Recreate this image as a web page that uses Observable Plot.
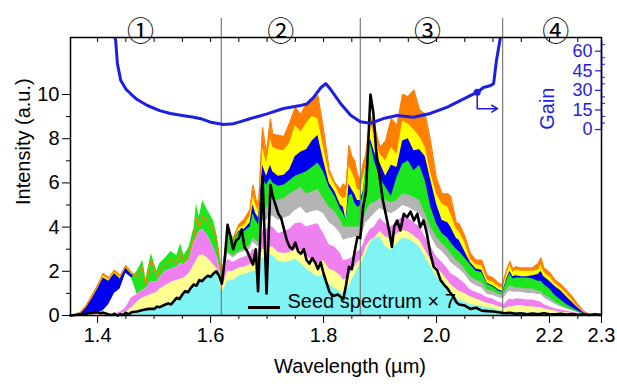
<!DOCTYPE html>
<html><head><meta charset="utf-8">
<script src="https://cdn.jsdelivr.net/npm/d3@7"></script>
<script src="https://cdn.jsdelivr.net/npm/@observablehq/plot@0.6"></script>
<style>body{margin:0;background:#fff}</style>
</head><body><div id="chart"></div>
<script>
// ---- wavelength grid for the amplified spectra (µm)
const wl = [
 1.35,1.36,1.37,1.38,1.39,1.40,1.41,1.42,1.43,1.44,1.45,1.46,
 1.47,1.48,1.485,1.495,1.505,1.51,1.52,1.53,1.54,1.547,1.553,1.562,1.571,1.575,1.58,1.586,1.595,1.605,1.612,
 1.62,1.63,1.64,1.65,1.66,1.67,1.675,1.68,1.685,1.692,1.699,1.706,1.71,1.72,1.73,1.74,1.75,1.76,1.77,1.78,1.79,
 1.80,1.81,1.82,1.83,1.835,1.84,1.845,1.85,1.855,1.86,1.865,1.87,1.875,1.883,1.89,1.90,1.91,1.92,1.93,1.94,1.95,1.96,1.97,1.98,1.99,2.00,2.01,2.02,
 2.025,2.035,2.04,2.05,2.06,2.07,2.08,2.09,2.10,2.11,2.117,2.12,2.125,2.13,2.135,2.14,2.15,2.16,2.17,2.18,2.185,2.19,2.20,2.21,2.22,2.23,2.24,2.25,2.26,2.27,2.28,2.29];

const orange = [
 0,.05,.15,.45,.9,1.35,1.9,1.7,2.05,1.8,2.25,1.95,
 1.75,2.2,1.4,2.5,1.75,2.05,2.3,2.55,2.4,2.9,2.4,2.75,3.6,4.4,4.0,4.5,4.2,3.9,3.3,
 1.8,3.8,3.5,4.1,4.35,4.8,5.9,5.3,5.0,8.5,7.3,8.9,8.2,8.15,8.1,8.7,9.4,9.1,9.6,9.7,9.95,
 8.4,6.6,6.0,5.7,5.95,5.8,7.7,7.2,7.0,6.4,6.1,6.85,7.3,9.0,8.6,7.6,7.9,8.9,8.6,10.0,9.9,10.2,9.3,9.1,7.8,6.2,5.5,5.5,
 5.4,4.2,4.15,3.6,2.8,2.5,2.5,1.8,1.7,1.45,1.4,1.7,2.1,2.45,2.1,2.2,2.15,2.15,2.15,2.35,2.6,2.15,1.95,1.6,1.4,1.15,.85,.5,.2,.06,.02,0];
const yellow = [
 0,.04,.12,.4,.82,1.27,1.8,1.62,1.97,1.72,2.2,1.9,
 1.75,2.2,1.4,2.5,1.75,2.05,2.3,2.55,2.4,2.9,2.4,2.75,3.6,4.4,4.0,4.5,4.2,3.9,3.3,
 1.75,3.8,3.45,3.95,4.1,4.5,5.4,5.0,4.7,7.6,6.9,8.0,7.6,7.5,7.45,7.8,8.6,8.3,8.7,9.0,8.9,
 7.6,6.4,5.9,5.4,5.3,5.35,6.75,6.5,6.2,5.7,5.65,6.2,6.8,8.7,8.2,7.3,7.0,7.6,7.3,8.8,8.65,8.4,8.1,7.6,6.4,5.5,5.05,4.9,
 4.6,3.9,3.8,3.3,2.55,2.3,2.25,1.6,1.5,1.3,1.25,1.5,1.95,2.3,1.95,2.05,2.0,2.0,2.0,2.05,2.3,1.95,1.75,1.45,1.25,1.0,.7,.4,.15,.05,.02,0];
const blue = [
 0,.03,.1,.35,.75,1.2,1.7,1.55,1.9,1.65,2.15,1.85,
 1.75,2.2,1.4,2.5,1.75,2.05,2.3,2.55,2.4,2.9,2.4,2.75,3.6,4.4,4.0,4.5,4.2,3.9,3.3,
 1.7,3.8,3.4,3.8,3.9,4.2,5.0,4.6,4.4,6.8,6.3,6.8,6.5,6.3,6.35,6.6,7.2,7.4,7.5,7.9,8.15,
 7.0,6.0,5.6,5.0,4.9,4.3,5.95,5.7,5.5,5.2,5.2,5.6,6.5,8.0,7.4,6.9,6.3,6.8,6.7,7.9,8.0,7.45,7.5,7.2,6.1,5.05,4.3,4.2,
 4.0,3.5,3.4,2.9,2.4,2.1,2.05,1.45,1.35,1.15,1.1,1.3,1.7,2.0,1.75,1.8,1.75,1.75,1.8,1.85,2.0,1.75,1.55,1.3,1.12,.85,.6,.35,.12,.04,.01,0];
const green = [
 0,.01,.03,.05,.08,.12,.2,.5,1.0,1.2,1.9,1.7,
 2.0,2.5,1.6,2.8,2.0,2.35,2.6,2.9,2.7,3.25,2.7,3.1,4.0,5.05,4.45,5.2,4.75,4.3,3.6,
 1.7,3.8,3.4,3.75,3.8,4.0,4.6,4.3,4.1,6.2,5.9,6.2,6.0,5.85,5.9,6.1,6.3,6.4,6.5,6.7,6.9,
 6.5,5.8,5.4,4.8,4.6,4.3,5.4,5.5,5.1,4.9,4.95,5.5,6.85,7.8,7.0,6.2,5.8,5.4,6.25,6.85,7.0,6.55,6.8,6.1,4.9,4.15,3.7,3.5,
 3.3,3.0,2.9,2.6,2.3,2.0,1.95,1.4,1.3,1.1,1.05,1.25,1.6,1.9,1.65,1.7,1.7,1.7,1.65,1.55,1.55,1.4,1.2,.9,.7,.5,.35,.2,.08,.03,.01,0];
const gray = [
 0,.01,.03,.05,.08,.12,.2,.5,1.0,1.2,1.9,1.7,
 .95,1.15,1.2,1.55,1.5,1.7,2.0,2.1,2.2,2.35,2.3,2.5,3.3,3.5,3.8,3.9,3.6,3.1,2.6,
 1.65,2.9,2.7,2.9,3.0,3.2,3.5,3.4,3.3,4.8,4.8,5.3,5.3,5.2,5.3,5.5,5.65,5.8,5.5,5.6,5.7,
 5.3,4.9,4.7,4.3,4.0,4.0,4.0,4.0,4.0,4.0,4.0,4.3,4.7,5.05,5.1,5.3,5.2,5.1,5.2,5.5,5.45,5.35,5.2,4.6,4.0,3.55,3.25,3.0,
 2.8,2.5,2.4,2.1,1.75,1.6,1.5,1.15,1.1,.95,.9,1.0,1.2,1.35,1.3,1.25,1.25,1.2,1.2,1.1,1.1,.95,.8,.6,.45,.35,.25,.15,.06,.02,0,0];
const white = [
 0,.01,.03,.05,.08,.12,.2,.5,1.0,1.2,1.9,1.7,
 .95,1.15,1.2,1.55,1.5,1.7,2.0,2.1,2.2,2.35,2.3,2.5,3.3,3.5,3.8,3.9,3.6,3.1,2.6,
 1.6,2.8,2.6,2.8,2.9,3.0,3.3,3.2,3.1,4.3,4.3,4.5,4.5,4.3,4.4,4.5,4.75,4.9,4.6,4.7,4.75,
 4.6,4.2,4.0,3.7,3.4,3.45,3.5,3.5,3.55,3.55,3.55,3.8,4.2,4.4,4.6,4.85,4.7,4.6,4.75,4.98,4.9,4.75,4.6,4.15,3.6,3.1,2.9,2.6,
 2.4,2.2,2.1,1.85,1.5,1.35,1.25,.95,.9,.8,.75,.8,1.0,1.1,1.05,1.05,1.05,1.0,1.0,.95,.95,.8,.65,.5,.38,.28,.2,.12,.05,.02,0,0];
const pink = [
 0,0,0,0,0,.02,.03,.05,.08,.15,.35,.8,
 .95,1.15,1.2,1.55,1.5,1.7,2.0,2.1,2.2,2.35,2.3,2.5,3.3,3.5,3.8,3.9,3.6,3.1,2.6,
 1.45,2.55,2.4,2.55,2.65,2.75,3.0,2.9,2.8,3.8,3.9,4.0,4.0,3.7,3.8,3.9,4.15,4.2,4.0,4.1,4.15,
 3.7,3.2,3.1,2.8,2.5,2.5,2.55,2.6,2.8,2.9,2.95,3.2,3.55,3.9,4.0,4.4,4.15,4.0,4.25,4.45,4.4,4.2,4.0,3.55,3.1,2.65,2.4,2.1,
 1.9,1.75,1.65,1.45,1.15,1.05,.95,.8,.75,.6,.55,.5,.65,.75,.7,.75,.75,.7,.7,.65,.6,.5,.4,.3,.25,.2,.15,.1,.04,.01,0,0];
const lightYellow = [
 0,0,0,0,0,0,.02,.03,.05,.08,.15,.35,
 .6,.8,.85,.95,1.05,1.2,1.35,1.5,1.6,1.65,1.7,1.9,2.3,2.5,2.7,2.75,2.6,2.3,2.1,
 1.2,2.0,2.0,2.15,2.2,2.3,2.4,2.35,2.3,3.0,3.0,3.1,3.1,2.85,2.8,2.85,3.0,2.95,2.7,2.45,2.3,
 2.5,2.1,2.0,1.8,1.6,1.65,1.8,2.0,2.2,2.4,2.5,2.7,3.1,3.4,3.5,3.8,3.55,3.45,3.7,3.85,3.8,3.6,3.4,2.95,2.5,2.2,1.9,1.6,
 1.4,1.2,1.1,1.0,.85,.75,.65,.55,.5,.4,.35,.3,.35,.4,.4,.45,.45,.4,.4,.35,.35,.3,.25,.2,.15,.12,.1,.06,.03,.01,0,0];
const cyan = [
 0,0,0,0,0,0,0,0,0,.02,.04,.06,
 .1,.15,.2,.25,.3,.35,.45,.5,.65,.75,.95,1.1,1.35,1.4,1.5,1.6,1.7,1.85,1.9,
 1.0,1.55,1.6,1.8,1.85,1.95,2.0,2.0,1.9,2.6,2.6,2.75,2.7,2.45,2.4,2.45,2.55,2.35,2.1,1.9,1.75,
 1.8,1.4,1.25,1.05,.98,1.1,1.3,1.6,1.8,2.1,2.3,2.5,2.8,3.3,3.5,3.55,3.1,2.95,3.25,3.5,3.45,3.3,3.1,2.65,2.2,1.75,1.45,1.1,
 .95,.8,.7,.6,.5,.45,.4,.35,.3,.22,.2,.15,.15,.15,.15,.15,.12,.1,.1,.1,.1,.08,.06,.05,.04,.03,.02,.01,0,0,0,0];

// ---- seed spectrum × 7
const seedWl = [1.352,1.36,1.37,1.38,1.39,1.40,1.405,1.41,1.42,1.425,1.43,1.435,1.44,1.445,1.45,1.455,1.46,1.47,1.48,1.49,1.50,1.505,1.51,1.52,1.525,1.53,1.535,1.54,1.545,1.55,1.555,1.56,1.565,1.57,1.575,1.58,1.585,1.59,1.595,1.60,1.605,1.61,1.615,1.62,1.625,1.63,1.635,1.64,1.645,1.65,1.655,1.66,1.665,1.67,1.675,1.68,1.684,1.692,1.699,1.706,1.71,1.715,1.72,1.725,1.73,1.735,1.74,1.745,1.75,1.755,1.76,1.765,1.77,1.775,1.78,1.785,1.79,1.795,1.80,1.805,1.81,1.815,1.82,1.825,1.83,1.835,1.84,1.845,1.85,1.855,1.86,1.865,1.87,1.875,1.878,1.883,1.888,1.893,1.898,1.905,1.91,1.916,1.921,1.925,1.93,1.936,1.942,1.948,1.954,1.96,1.966,1.971,1.977,1.983,1.989,1.995,2.001,2.007,2.013,2.02,2.025,2.03,2.035,2.04,2.05,2.06,2.07,2.08,2.09,2.10,2.11,2.12,2.13,2.14,2.15,2.16,2.17,2.18,2.19,2.20,2.21,2.22,2.23,2.24,2.25,2.26,2.27,2.28,2.29];
const seedVal = [0,.02,.05,.08,.12,.15,.1,.13,.05,.02,.08,0,.06,.02,.12,.05,.15,.18,.25,.3,.3,.4,.38,.5,.55,.5,.65,.8,.75,.95,1.1,1.05,1.25,1.4,1.35,1.6,1.55,1.7,1.8,1.75,1.9,2.0,1.8,1.45,2.5,4.1,3.6,3.0,3.4,3.5,3.9,3.1,2.9,2.6,2.3,3.0,1.1,6.3,1.0,5.9,5.4,5.0,4.6,4.4,3.9,3.4,3.1,3.0,3.3,2.9,2.8,3.0,2.5,2.35,2.6,2.4,2.1,2.4,1.9,1.5,1.1,.9,.9,.95,.85,.75,1.4,2.2,2.1,2.9,3.55,3.5,4.9,5.6,7.2,10.0,9.2,7.5,6.5,5.2,4.6,3.85,3.1,4.0,4.3,3.85,4.6,4.45,4.7,4.3,4.6,4.0,4.3,3.7,2.8,2.2,2.05,1.6,1.4,1.2,1.0,.85,.6,.5,.45,.3,.35,.22,.2,.18,.15,.1,.12,.08,.1,.06,.09,.05,.1,.06,.05,.08,.04,.07,.03,.06,.02,.06,.03];

// ---- gain curve (right axis units)
const gainWl  = [1.430,1.432,1.435,1.441,1.450,1.458,1.470,1.488,1.510,1.529,1.550,1.570,1.585,1.600,1.623,1.640,1.650,1.671,1.700,1.729,1.759,1.770,1.782,1.795,1.804,1.812,1.830,1.848,1.865,1.883,1.906,1.930,1.959,1.989,2.019,2.042,2.072,2.083,2.096,2.101,2.106,2.113];
const gainVal = [72,68,50.6,37.5,31,27.6,23,18.4,14.5,12.3,10.8,9.4,8.0,5.6,3.8,4.4,5.7,8.4,12.0,16.1,18.4,19.5,24.5,32,35.2,31,20,11,6,4.8,8.4,10.7,9.4,12.3,17.1,22.2,28.6,32.2,33.7,35.2,52.9,70.5];
const gainTicks = [0, 15, 30, 45, 60];
const gainMinor = [5,10,20,25,35,40,50,55,65];
const gainMarker = {wl: 2.072, gain: 28.6};
const gainArrow = {wl1: 2.072, wl2: 2.108, gain: 16};

// ---- axes, regions, labels
const xDomain = [1.352, 2.292];
const yDomain = [0, 12.58];
const xTickPos = [1.4, 1.6, 1.8, 2.0, 2.2, 2.292];
const xTickLabels = ["1.4", "1.6", "1.8", "2.0", "2.2", "2.3"];
const xMinor = [1.45,1.5,1.55,1.65,1.7,1.75,1.85,1.9,1.95,2.05,2.1,2.15,2.25];
const xTopTicks = [1.4,1.45,1.5,1.55,1.6,1.65,1.7,1.75,1.8,1.85,1.9,1.95,2.0,2.05,2.1,2.15,2.2,2.25];
const yMajor = [0, 2, 4, 6, 8, 10];
const yMinor = [1, 3, 5, 7, 9];
const regionBounds = [1.619, 1.865, 2.117];
const regionLabels = ["①", "②", "③", "④"];
const regionCenters = [1.476, 1.724, 1.984, 2.211];

const BLUE = "#1e1ee0";
const layers = [
  [orange, "#ff8000"], [yellow, "#ffff00"], [blue, "#0000f0"], [green, "#1ee61e"],
  [gray, "#b4b4b4"], [white, "#ffffff"], [pink, "#ef80ef"], [lightYellow, "#ffff90"], [cyan, "#80f4f4"]
];
for (const [arr] of layers) if (arr.length !== wl.length) throw new Error("length mismatch " + arr.length + " vs " + wl.length);
if (seedWl.length !== seedVal.length) throw new Error("seed mismatch " + seedWl.length + " " + seedVal.length);
if (gainWl.length !== gainVal.length) throw new Error("gain mismatch");

const g2i = g => 8.416 + 0.05905 * g;   // gain -> intensity position (right axis)
const idx = d3.range(wl.length);
const sIdx = d3.range(seedWl.length);
const gIdx = d3.range(gainWl.length);

const marks = [];
for (const [arr, color] of layers) {
  marks.push(Plot.areaY(idx, {x: i => wl[i], y: i => arr[i], fill: color}));
}
marks.push(Plot.line(idx, {x: i => wl[i], y: i => orange[i], stroke: "#ff8000", strokeWidth: 1.2}));
marks.push(Plot.ruleX(regionBounds, {stroke: "#7a7a7a", strokeWidth: 1.2, insetTop: -19}));
marks.push(Plot.line(sIdx, {x: i => seedWl[i], y: i => seedVal[i], stroke: "black", strokeWidth: 2.6}));
// legend
marks.push(Plot.ruleY([0], {dy: -8, insetLeft: 178, insetRight: 321, stroke: "black", strokeWidth: 3}));
marks.push(Plot.text(["Seed spectrum \u00d7 7"], {frameAnchor: "bottom-left", dx: 217, dy: -8, textAnchor: "start", fontSize: 20}));
// gain
marks.push(Plot.line(gIdx, {x: i => gainWl[i], y: i => g2i(gainVal[i]), stroke: BLUE, strokeWidth: 3, clip: true}));
marks.push(Plot.ruleX([gainArrow], {x: "wl1", y1: g2i(gainMarker.gain), y2: g2i(gainArrow.gain), stroke: BLUE, strokeWidth: 1.5}));
marks.push(Plot.arrow([gainArrow], {x1: "wl1", x2: "wl2", y1: () => g2i(gainArrow.gain), y2: () => g2i(gainArrow.gain), stroke: BLUE, strokeWidth: 1.5, headLength: 7}));
marks.push(Plot.dot([gainMarker], {x: "wl", y: d => g2i(d.gain), r: 3.5, fill: BLUE}));
// right gain axis
marks.push(Plot.ruleX([xDomain[1]], {y1: g2i(-1), y2: g2i(68), stroke: BLUE, strokeWidth: 1.5}));
marks.push(Plot.tickY(gainTicks, {y: g2i, insetLeft: 525, stroke: BLUE, strokeWidth: 1.2}));
marks.push(Plot.axisY({anchor: "right", ticks: gainMinor.map(g2i), tickSize: 3, tickFormat: () => "", color: BLUE}));
marks.push(Plot.text(gainTicks, {y: g2i, frameAnchor: "right", dx: -9, textAnchor: "end", fill: BLUE, fontSize: 18, text: d => String(d)}));
marks.push(Plot.text(["Gain"], {frameAnchor: "top-right", dx: -62, dy: 50, rotate: -90, fill: BLUE, fontSize: 20}));
// left axis
marks.push(Plot.axisY({ticks: yMajor, tickSize: 8, tickPadding: 3, fontSize: 20, tickFormat: d => String(d)}));
marks.push(Plot.axisY({ticks: yMinor, tickSize: 4, tickFormat: () => ""}));
marks.push(Plot.text(["Intensity (a.u.)"], {frameAnchor: "left", y: () => 5, dx: -47, rotate: -90, fontSize: 20}));
// bottom axis
marks.push(Plot.axisX({ticks: xTickPos, tickSize: 8, tickPadding: 4, fontSize: 20, tickFormat: d => xTickLabels[xTickPos.indexOf(d)]}));
marks.push(Plot.axisX({ticks: xMinor, tickSize: 4, tickFormat: () => ""}));
marks.push(Plot.tickX(xTopTicks, {x: d => d, insetBottom: 273, stroke: "black"}));
marks.push(Plot.text(["Wavelength (\u00b5m)"], {frameAnchor: "bottom", dx: 14, dy: 57, fontSize: 20}));
// region labels
marks.push(Plot.text(regionLabels, {x: (d, i) => regionCenters[i], frameAnchor: "top", dy: -16, fontSize: 27, fontFamily: "Noto Sans CJK JP, DejaVu Sans, sans-serif"}));
marks.push(Plot.frame({stroke: "black", strokeWidth: 1.5}));

const chart = Plot.plot({
  width: 617, height: 387,
  marginTop: 37, marginBottom: 72, marginLeft: 70, marginRight: 16,
  x: {domain: xDomain, label: null},
  y: {domain: yDomain, label: null},
  style: {fontFamily: "Liberation Sans, Arial, sans-serif", fontSize: "20px", background: "white", color: "black", overflow: "visible"},
  marks
});
document.getElementById("chart").append(chart);
</script>
</body></html>
